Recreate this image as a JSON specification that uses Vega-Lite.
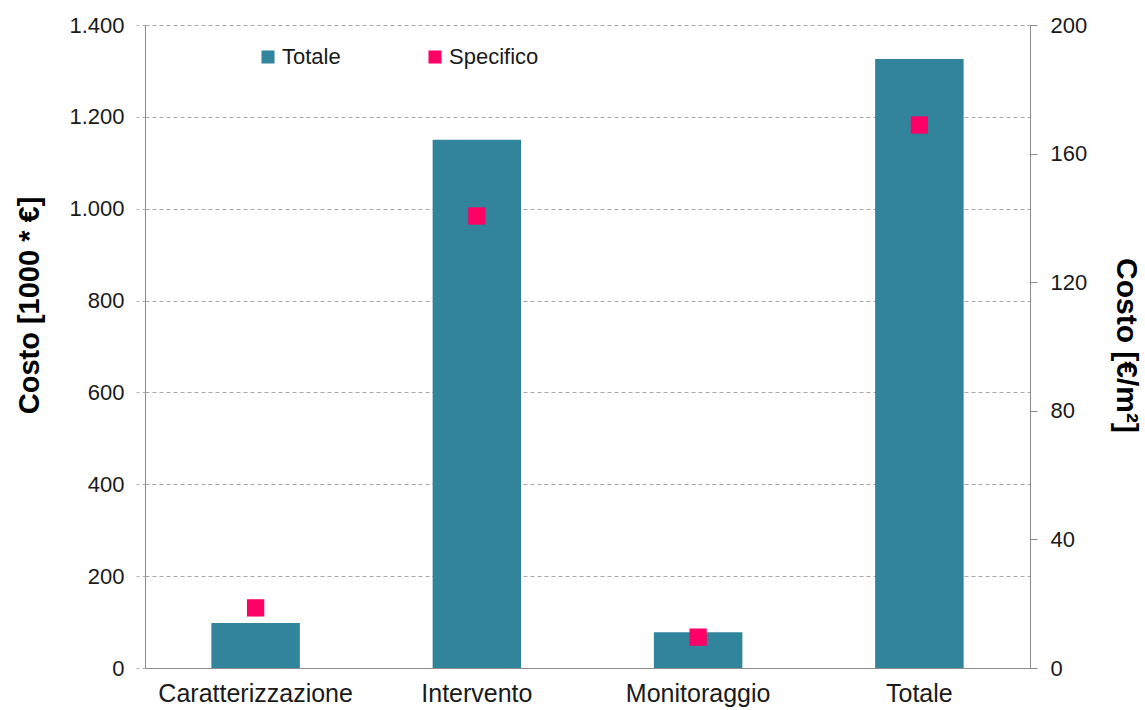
{
  "$schema": "https://vega.github.io/schema/vega-lite/v6.json",
  "autosize": {"type": "none"},
  "width": 885,
  "height": 643,
  "padding": {"left": 145, "top": 25, "right": 115, "bottom": 42},
  "background": "white",
  "config": {
    "locale": {"number": {"decimal": ",", "thousands": ".", "grouping": [3], "currency": ["€", ""]}},
    "font": "Liberation Sans",
    "view": {"stroke": null},
    "axis": {"labelFont": "Liberation Sans", "titleFont": "Liberation Sans", "labelColor": "#1a1a1a", "titleColor": "#000000", "domainColor": "#8c8c8c", "tickColor": "#8c8c8c"}
  },
  "data": {
    "values": [
      {"categoria": "Caratterizzazione", "totale": 98, "specifico": 18.7},
      {"categoria": "Intervento", "totale": 1150, "specifico": 140.6},
      {"categoria": "Monitoraggio", "totale": 78, "specifico": 9.6},
      {"categoria": "Totale", "totale": 1326, "specifico": 168.9}
    ]
  },
  "encoding": {
    "x": {
      "field": "categoria",
      "type": "nominal",
      "sort": null,
      "scale": {"paddingInner": 0.6, "paddingOuter": 0.3},
      "axis": {"title": null, "labelAngle": 0, "labelFontSize": 25, "labelPadding": 13, "labelLimit": 400, "ticks": false, "domainColor": "#8c8c8c", "labelColor": "#1a1a1a"}
    },
    "color": {
      "type": "nominal",
      "scale": {"domain": ["Totale", "Specifico"], "range": ["#31849B", "#FF0066"]},
      "legend": {
        "title": null,
        "orient": "none",
        "legendX": 112,
        "legendY": 21,
        "direction": "horizontal",
        "symbolType": "square",
        "symbolSize": 170,
        "symbolStrokeWidth": 0,
        "labelFontSize": 22,
        "labelFont": "Liberation Sans",
        "labelColor": "#1a1a1a",
        "labelOffset": 3,
        "columnPadding": 83
      }
    }
  },
  "layer": [
    {
      "mark": {"type": "bar", "color": "#31849B"},
      "encoding": {
        "y": {
          "field": "totale",
          "type": "quantitative",
          "scale": {"domain": [0, 1400], "nice": false},
          "axis": {
            "title": "Costo [1000 * €]",
            "titleFontSize": 29,
            "titleFontWeight": "bold",
            "titlePadding": 24,
            "titleY": 280,
            "values": [0, 200, 400, 600, 800, 1000, 1200, 1400],
            "format": ",d",
            "labelFontSize": 22,
            "labelPadding": 11,
            "tickSize": 10,
            "tickColor": "#b0b0b0",
            "tickDash": [3, 3],
            "grid": true,
            "gridDash": [4, 3],
            "gridColor": "#a6a6a6",
            "gridWidth": 1
          }
        },
        "color": {"datum": "Totale"}
      }
    },
    {
      "mark": {"type": "point", "shape": "square", "filled": true, "opacity": 1, "size": 300},
      "encoding": {
        "y": {
          "field": "specifico",
          "type": "quantitative",
          "scale": {"domain": [0, 200], "nice": false},
          "axis": {
            "orient": "right",
            "title": "Costo  [€/m²]",
            "titleFontSize": 30,
            "titleFontWeight": "bold",
            "titlePadding": 24,
            "titleY": 320,
            "values": [0, 40, 80, 120, 160, 200],
            "labelFontSize": 22,
            "labelPadding": 13,
            "tickSize": 7,
            "grid": false
          }
        },
        "color": {"datum": "Specifico"}
      }
    }
  ],
  "resolve": {"scale": {"y": "independent"}}
}
